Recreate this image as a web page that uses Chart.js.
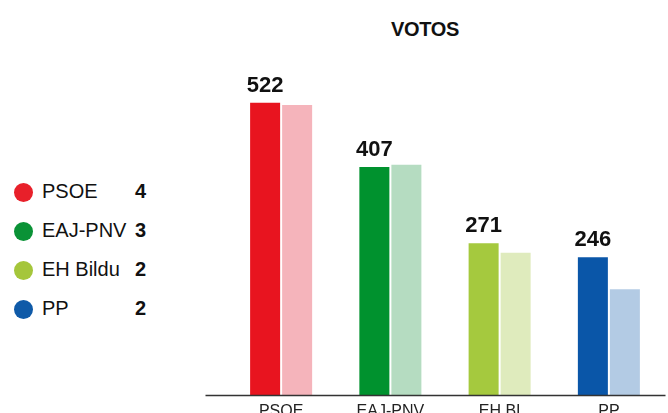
<!DOCTYPE html>
<html>
<head>
<meta charset="utf-8">
<script src="https://cdn.jsdelivr.net/npm/chart.js@4"></script>
<style>
  html, body { margin: 0; padding: 0; background: #fff; overflow: hidden; }
  body { width: 668px; height: 413px; position: relative; font-family: "Liberation Sans", Arial, sans-serif; }
  #wrap { position: absolute; left: 0; top: 0; width: 668px; height: 430px; }
  #titulo { position: absolute; left: 325px; top: 18px; width: 200px; text-align: center;
            font-size: 20px; font-weight: bold; color: #111; letter-spacing: -0.3px; }
  #leyenda { position: absolute; left: 13px; top: 180px; }
  .fila { position: relative; height: 39px; font-size: 20px; color: #111; white-space: nowrap; }
  .fila .bola { position: absolute; left: 1px; top: 3px; width: 19px; height: 19px; border-radius: 50%; }
  .fila .nom { position: absolute; left: 29px; top: 0; }
  .fila .esc { position: absolute; left: 122px; top: 0; font-weight: bold; }
</style>
</head>
<body>
<div id="titulo">VOTOS</div>
<div id="leyenda"></div>
<div id="wrap"><canvas id="grafico"></canvas></div>
<script>
var partidos = ['PSOE', 'EAJ-PNV', 'EH BI', 'PP'];
var nombresLeyenda = ['PSOE', 'EAJ-PNV', 'EH Bildu', 'PP'];
var escanos = [4, 3, 2, 2];
var votos = [522, 407, 271, 246];
var votosAnterior = [518, 411, 254, 189];

var coloresFuertes = ['#e8141f', '#00922e', '#a5c93e', '#0a56a8'];
var coloresSuaves = ['#f5b4bb', '#b5dcc1', '#dfebbd', '#b3cbe4'];
var coloresLeyenda = ['#e8202a', '#0a9236', '#a5c63b', '#0f5aa8'];

// leyenda en html
var ley = document.getElementById('leyenda');
nombresLeyenda.forEach(function (n, i) {
  var f = document.createElement('div');
  f.className = 'fila';
  f.innerHTML = '<span class="bola" style="background:' + coloresLeyenda[i] + '"></span>' +
    '<span class="nom">' + n + '</span><span class="esc">' + escanos[i] + '</span>';
  ley.appendChild(f);
});

var etiquetas = {
  id: 'etiquetas',
  afterDatasetsDraw: function (chart) {
    var ctx = chart.ctx;
    var meta = chart.getDatasetMeta(0);
    ctx.save();
    ctx.font = 'bold 22px "Liberation Sans", Arial, sans-serif';
    ctx.fillStyle = '#111';
    ctx.textAlign = 'center';
    ctx.textBaseline = 'alphabetic';
    meta.data.forEach(function (bar, i) {
      ctx.fillText(votos[i], bar.x, bar.y - 11);
    });
    // linea base
    var a = chart.chartArea;
    ctx.strokeStyle = '#333';
    ctx.lineWidth = 1.5;
    ctx.beginPath();
    ctx.moveTo(a.left - 21, a.bottom + 0.5);
    ctx.lineTo(a.right + 2, a.bottom + 0.5);
    ctx.stroke();
    ctx.restore();
  }
};

new Chart(document.getElementById('grafico'), {
  type: 'bar',
  data: {
    labels: partidos,
    datasets: [{
      label: 'Votos',
      data: votos,
      backgroundColor: coloresFuertes,
      categoryPercentage: 0.586,
      barPercentage: 0.9375
    }, {
      label: 'Anterior',
      data: votosAnterior,
      backgroundColor: coloresSuaves,
      categoryPercentage: 0.586,
      barPercentage: 0.9375
    }]
  },
  options: {
    responsive: true,
    maintainAspectRatio: false,
    animation: false,
    layout: { padding: { left: 226.5, right: 4.5, top: 59, bottom: 5 } },
    scales: {
      x: {
        grid: { display: false },
        border: { display: false },
        ticks: {
          color: '#222',
          padding: -1,
          font: { size: 16, family: '"Liberation Sans", Arial, sans-serif' },
          maxRotation: 0,
          autoSkip: false
        },
        afterFit: function (s) { s.height = 30; }
      },
      y: {
        display: false,
        min: 0,
        max: 600
      }
    },
    plugins: {
      legend: { display: false },
      tooltip: { enabled: false }
    }
  },
  plugins: [etiquetas]
});
</script>
</body>
</html>
